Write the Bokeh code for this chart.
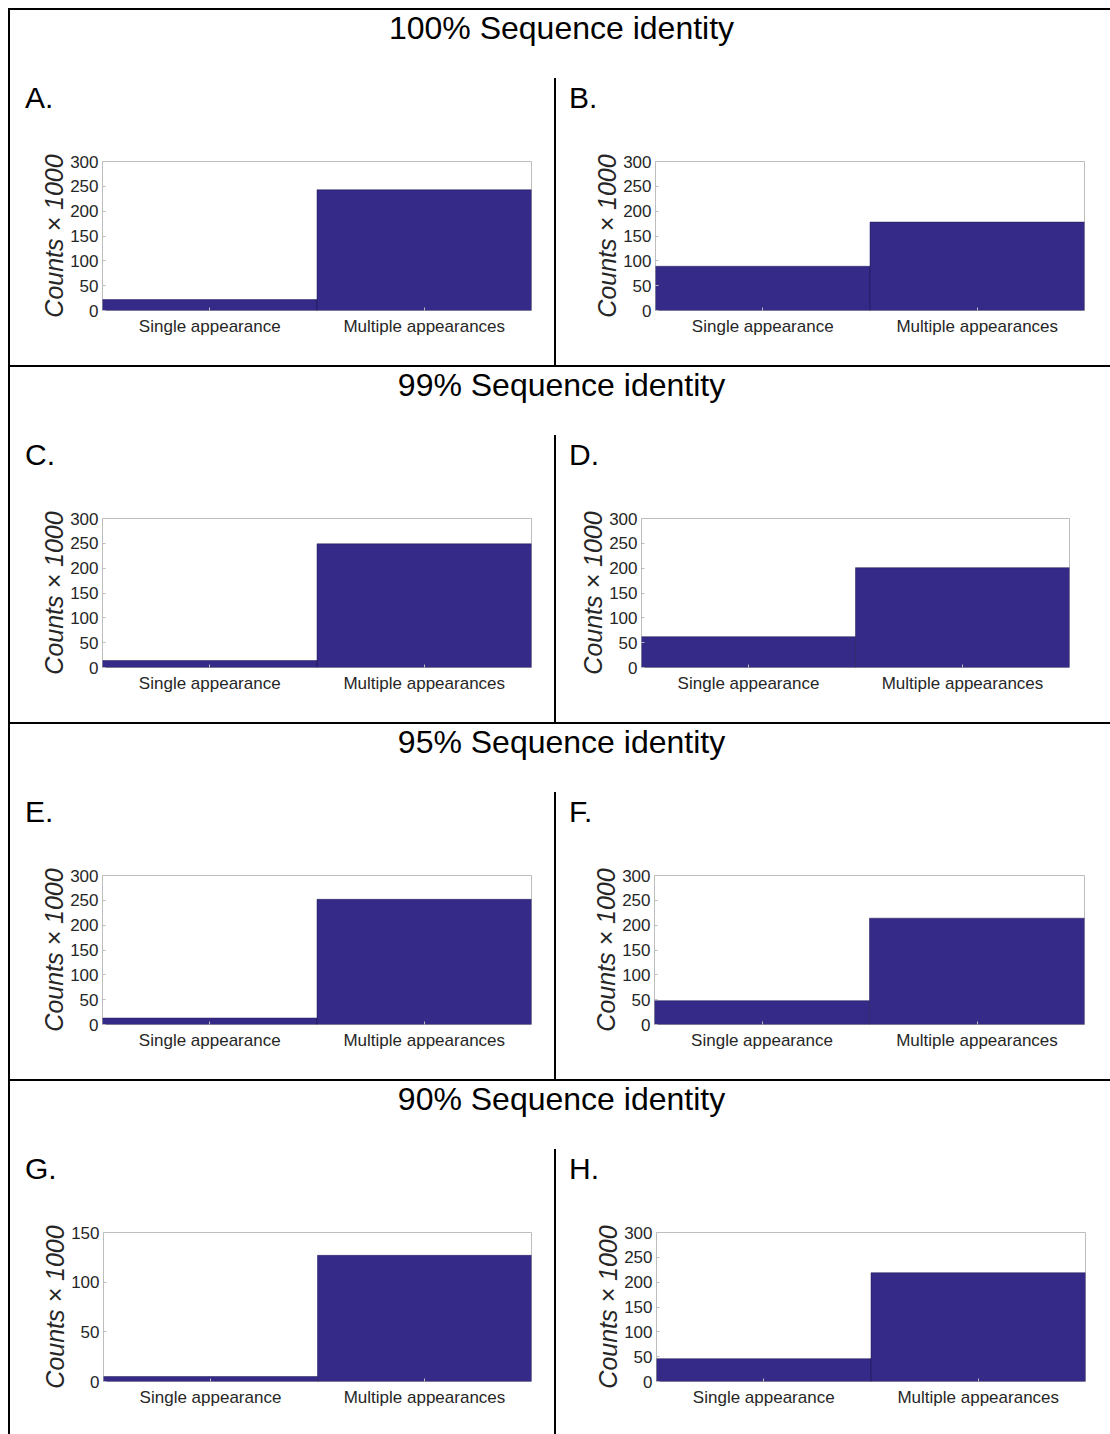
from bokeh.plotting import figure
from bokeh.models import Div, FactorRange, Range1d, FixedTicker, ColumnDataSource
from bokeh.layouts import row, column
from bokeh.embed import file_html
from bokeh.resources import INLINE

# ---------------- data ----------------
categories = ["Single appearance", "Multiple appearances"]
row_titles = ["100% Sequence identity", "99% Sequence identity",
              "95% Sequence identity", "90% Sequence identity"]
panel_letters = ["A.", "B.", "C.", "D.", "E.", "F.", "G.", "H."]

counts_A = [22, 243]
counts_B = [89, 178]
counts_C = [14, 249]
counts_D = [62, 201]
counts_E = [13, 252]
counts_F = [48, 214]
counts_G = [5, 127]
counts_H = [46, 219]

y_ticks_300 = [0, 50, 100, 150, 200, 250, 300]
y_ticks_150 = [0, 50, 100, 150]
y_label = "Counts \u00d7 1000"

# ---------------- style ----------------
FONT = "Liberation Sans"
BAR = "#352A87"
BOX = "#bdbdbd"
TXT = "#262626"

W = 1100          # inner content width (to the window's right edge)
ROW_H = 357
LAST_ROW_H = 355
TITLE_H = 68
LETTER_H = 40
LEFT_W = 544
RIGHT_W = W - LEFT_W - 2


def make_panel(values, ticks, width, border_left, border_right, height, border_bottom):
    src = ColumnDataSource(dict(cat=categories, val=values))
    p = figure(x_range=FactorRange(factors=categories, range_padding=0),
               y_range=Range1d(0, ticks[-1]),
               width=width, height=height,
               min_border_left=border_left, min_border_right=border_right,
               min_border_top=43, min_border_bottom=border_bottom,
               output_backend="svg", toolbar_location=None, tools="")
    p.vbar(x="cat", top="val", width=1.0, source=src,
           fill_color=BAR, line_color="#1e1850", line_width=0.5)
    p.xgrid.visible = False
    p.ygrid.visible = False
    p.outline_line_color = BOX
    p.outline_line_width = 1
    p.background_fill_color = "white"
    p.border_fill_color = "white"

    ya = p.yaxis[0]
    ya.ticker = FixedTicker(ticks=ticks)
    ya.axis_line_color = None
    ya.major_tick_line_color = BOX
    ya.major_tick_in = 3
    ya.major_tick_out = 0
    ya.minor_tick_line_color = None
    ya.major_label_text_font = FONT
    ya.major_label_text_font_size = "17px"
    ya.major_label_text_color = TXT
    ya.major_label_standoff = 4
    ya.axis_label = y_label
    ya.axis_label_text_font = FONT
    ya.axis_label_text_font_size = "25px"
    ya.axis_label_text_font_style = "italic"
    ya.axis_label_text_color = TXT
    ya.axis_label_standoff = -1

    xa = p.xaxis[0]
    xa.axis_line_color = None
    xa.major_tick_line_color = BOX
    xa.major_tick_in = 3
    xa.major_tick_out = 0
    xa.major_label_text_font = FONT
    xa.major_label_text_font_size = "17px"
    xa.major_label_text_color = TXT
    xa.major_label_standoff = 6
    return p


def letter_div(letter, width, pad):
    return Div(text=f'<div style="font-family:\'{FONT}\',Arial,sans-serif;font-size:30px;'
                    f'line-height:{LETTER_H}px;color:#000;padding-left:{pad}px;">{letter}</div>',
               width=width, height=LETTER_H, margin=0)


def hline():
    return Div(text="", width=W, height=2, margin=0, styles={"background-color": "#000"})


def vline(h):
    return Div(text="", width=2, height=h, margin=0, styles={"background-color": "#000"})


def title_div(t):
    return Div(text=f'<div style="font-family:\'{FONT}\',Arial,sans-serif;font-size:32px;'
                    f'line-height:36px;color:#000;text-align:center;width:1081px;'
                    f'margin-left:11px;">{t}</div>',
               width=W, height=TITLE_H, margin=0)


all_counts = [counts_A, counts_B, counts_C, counts_D, counts_E, counts_F, counts_G, counts_H]
all_ticks = [y_ticks_300] * 6 + [y_ticks_150, y_ticks_300]
# frame left offsets inside each cell (left cells / right cells)
left_borders = [92, 99, 92, 85, 92, 98, 93, 100]
frame_widths = [429, 429, 429, 428, 429, 430, 428, 429]

blocks = []
for r in range(4):
    rh = ROW_H if r < 3 else LAST_ROW_H
    panel_h = rh - 2 - TITLE_H
    fig_h = panel_h - LETTER_H
    fb = fig_h - 43 - 149
    cells = []
    for c in range(2):
        i = 2 * r + c
        cw = LEFT_W if c == 0 else RIGHT_W
        bl = left_borders[i]
        br = cw - bl - frame_widths[i]
        fig = make_panel(all_counts[i], all_ticks[i], cw, bl, br, fig_h, fb)
        cells.append(column(letter_div(panel_letters[i], cw, 15 if c == 0 else 13), fig, spacing=0))
    blocks.append(column(hline(), title_div(row_titles[r]),
                         row(cells[0], vline(panel_h), cells[1], spacing=0), spacing=0))

content = column(*blocks, spacing=0)
root = row(vline(3 * ROW_H + LAST_ROW_H), content, spacing=0, margin=(8, 0, 0, 8))

open("out.html", "w").write(file_html(root, INLINE, title="Sequence identity counts"))
